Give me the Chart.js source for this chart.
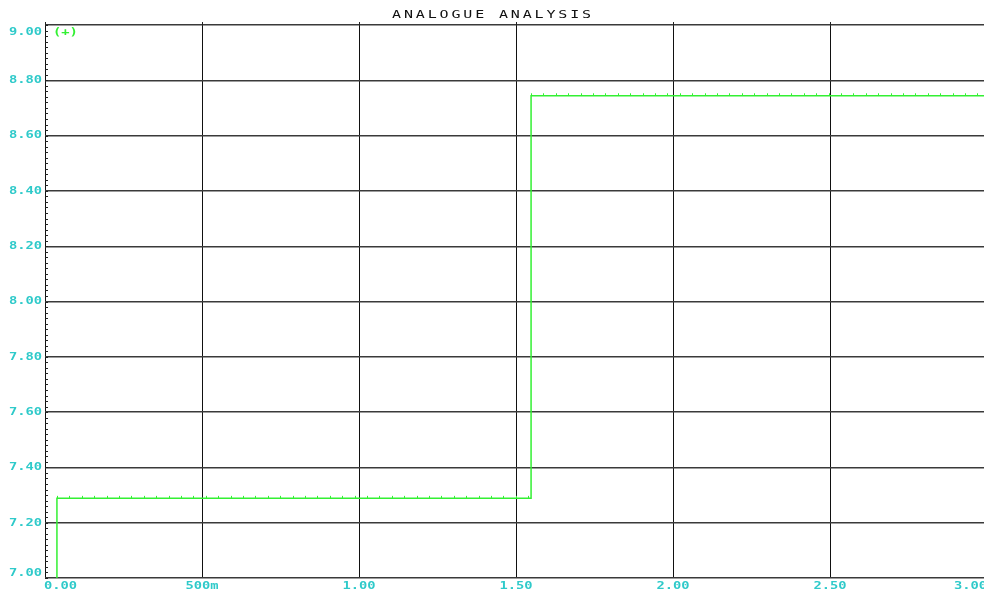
<!DOCTYPE html>
<html>
<head>
<meta charset="utf-8">
<script src="https://cdn.jsdelivr.net/npm/chart.js@4.4.1/dist/chart.umd.min.js"></script>
<style>
  html, body { margin: 0; padding: 0; background: #fff; overflow: hidden; width: 984px; height: 597px; }
  #wrap { width: 988px; height: 597px; }
</style>
</head>
<body>
<div id="wrap"><canvas id="c" width="988" height="597"></canvas></div>
<script>
// ---- data ----
const chartTitle = 'ANALOGUE ANALYSIS';
const seriesLabel = '(+)';
const timeValues = [0, 0.038, 1.548, 3.0];          // seconds
const voltValues = [6.5, 7.288, 8.744, 8.744];      // volts (first point below the visible range)
const xTickValues = [0, 0.5, 1.0, 1.5, 2.0, 2.5, 3.0];
const xTickLabels = ['0.00', '500m', '1.00', '1.50', '2.00', '2.50', '3.00'];
const yTickValues = [7.0, 7.2, 7.4, 7.6, 7.8, 8.0, 8.2, 8.4, 8.6, 8.8, 9.0];
const yTickLabels = ['7.00', '7.20', '7.40', '7.60', '7.80', '8.00', '8.20', '8.40', '8.60', '8.80', '9.00'];

const GREEN = '#33f033';
const CYAN = '#2fcaca';
const MONO = '"DejaVu Sans Mono", "Liberation Mono", monospace';
const LABEL_FONT = 'bold 11px ' + MONO;

const points = timeValues.map((t, i) => ({ x: t, y: voltValues[i] }));

function textWidth(ctx, text, font, sx, spacing) {
  ctx.save();
  ctx.font = font;
  ctx.letterSpacing = spacing || '0px';
  const w = ctx.measureText(text).width * sx;
  ctx.restore();
  return w;
}

function drawWide(ctx, text, x, y, align, sx, font, color, spacing) {
  ctx.save();
  ctx.font = font;
  ctx.letterSpacing = spacing || '0px';
  ctx.fillStyle = color;
  ctx.textAlign = 'left';
  ctx.textBaseline = 'middle';
  const w = ctx.measureText(text).width * sx;
  let left = x;
  if (align === 'center') left = x - w / 2;
  else if (align === 'right') left = x - w;
  ctx.translate(left, y);
  ctx.scale(sx, 1);
  ctx.fillText(text, 0, 0);
  ctx.restore();
  return w;
}

const decor = {
  id: 'decor',
  afterDatasetsDraw(chart) {
    const ctx = chart.ctx;
    const area = chart.chartArea;
    const xs = chart.scales.x, ys = chart.scales.y;
    ctx.save();
    // minor ticks on the left axis (10 per major division), pointing inwards
    ctx.strokeStyle = '#222';
    ctx.lineWidth = 1;
    const yMin = ys.min, yMax = ys.max;
    const minorStep = (yTickValues[1] - yTickValues[0]) / 10;
    const nMinor = Math.round((yMax - yMin) / minorStep);
    ctx.beginPath();
    for (let i = 0; i <= nMinor; i++) {
      const py = Math.round(ys.getPixelForValue(yMin + i * minorStep)) + 0.5;
      ctx.moveTo(area.left, py);
      ctx.lineTo(area.left + 3, py);
    }
    // small ticks above the top border at the major x positions
    xTickValues.forEach(v => {
      const px = Math.round(xs.getPixelForValue(v)) + 0.5;
      ctx.moveTo(px, area.top - 3);
      ctx.lineTo(px, area.top);
    });
    ctx.stroke();

    // sample markers along the horizontal runs of the trace
    const meta = chart.getDatasetMeta(0);
    const el = meta.data;
    ctx.strokeStyle = GREEN;
    ctx.lineWidth = 1;
    ctx.beginPath();
    for (let i = 0; i < el.length - 1; i++) {
      const p0 = el[i], p1 = el[i + 1];
      if (p0.y > area.bottom || p0.y < area.top) continue;
      for (let px = p0.x; px < p1.x - 2; px += 12.4) {
        const rx = Math.round(px) + 0.5;
        ctx.moveTo(rx, p0.y);
        ctx.lineTo(rx, p0.y - 2.5);
      }
    }
    ctx.stroke();
    ctx.restore();

    // legend text
    drawWide(ctx, chart.data.datasets[0].label, area.left + 8, area.top + 7, 'left', 1.25, LABEL_FONT, GREEN);

    // y labels
    yTickValues.forEach((v, i) => {
      let py = ys.getPixelForValue(v);
      py = Math.max(area.top + 7, Math.min(area.bottom - 5, py));
      drawWide(ctx, yTickLabels[i], area.left - 3, py, 'right', 1.25, LABEL_FONT, CYAN);
    });
    // x labels (centred on the tick, kept within the plot's horizontal extent)
    xTickValues.forEach((v, i) => {
      const px = xs.getPixelForValue(v);
      const w = textWidth(ctx, xTickLabels[i], LABEL_FONT, 1.25);
      let left = px - w / 2;
      left = Math.max(area.left - 1, Math.min(area.right - w, left));
      drawWide(ctx, xTickLabels[i], left, area.bottom + 8, 'left', 1.25, LABEL_FONT, CYAN);
    });

    // title
    drawWide(ctx, chartTitle, 493, 15, 'center', 1.5, '10px ' + MONO, '#111', '1.9px');
  }
};

new Chart(document.getElementById('c'), {
  type: 'line',
  data: {
    datasets: [{
      label: seriesLabel,
      data: points,
      borderColor: GREEN,
      borderWidth: 1.5,
      stepped: true,
      pointRadius: 0,
      fill: false,
      tension: 0
    }]
  },
  options: {
    responsive: false,
    animation: false,
    devicePixelRatio: 1,
    layout: { padding: { left: 45, right: 1, top: 25, bottom: 19 } },
    plugins: { legend: { display: false }, title: { display: false }, tooltip: { enabled: false } },
    scales: {
      x: {
        type: 'linear', min: 0, max: 3,
        ticks: { display: false, stepSize: 0.5 },
        grid: { color: '#111', lineWidth: 1, drawTicks: false },
        border: { display: false }
      },
      y: {
        min: 7, max: 9,
        ticks: { display: false, stepSize: 0.2 },
        grid: { color: '#3a3a3a', lineWidth: 1.4, drawTicks: false },
        border: { display: false }
      }
    }
  },
  plugins: [decor]
});
</script>
</body>
</html>
